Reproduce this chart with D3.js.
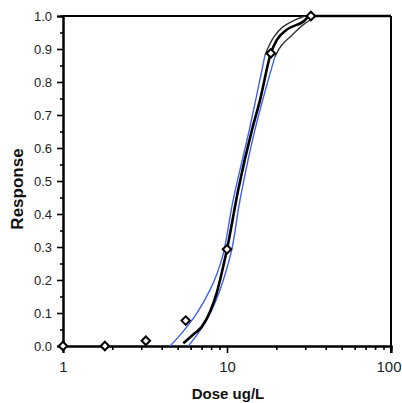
<!DOCTYPE html>
<html><head><meta charset="utf-8">
<script src="https://cdn.jsdelivr.net/npm/d3@7"></script>
<style>body{margin:0;background:#fff}svg{display:block}</style>
</head><body>
<script>
// observed data points
const doses = [1, 1.8, 3.2, 5.6, 10, 18.5, 32.5];
const responses = [0.0, 0.0, 0.016, 0.077, 0.293, 0.887, 1.0];
// fitted curve
const fitDose = [5.41, 6.23, 7.01, 7.88, 8.65, 9.07, 10, 11.7, 14.2, 15.9, 18.5, 20.1, 23.1, 29.2, 32.1, 100];
const fitResp = [0.008, 0.035, 0.058, 0.104, 0.16, 0.2, 0.293, 0.473, 0.655, 0.745, 0.887, 0.927, 0.958, 0.983, 1.0, 1.0];
// upper confidence bound
const upDose = [4.49, 5.17, 6.54, 7.88, 8.7, 9.5, 10.9, 13.68, 17.06];
const upResp = [0.0, 0.033, 0.099, 0.17, 0.22, 0.28, 0.442, 0.655, 0.882];
const upTailDose = [17.06, 19.1, 21.9, 26.0, 29.9];
const upTailResp = [0.882, 0.933, 0.967, 0.988, 1.0];
// lower confidence bound
const loDose = [5.81, 6.54, 7.52, 8.6, 9.5, 10.7, 12.0, 14.8, 19.6];
const loResp = [0.0, 0.033, 0.079, 0.14, 0.2, 0.293, 0.442, 0.655, 0.877];
const loTailDose = [19.6, 21.6, 24.9, 29.1, 34.4];
const loTailResp = [0.877, 0.912, 0.942, 0.973, 0.997];
// ticks
const xMajor = [1, 10, 100];
const xMinor = [2,3,4,5,6,7,8,9,20,30,40,50,60,70,80,90];
const yMajor = [0,0.1,0.2,0.3,0.4,0.5,0.6,0.7,0.8,0.9,1.0];
const yMinor = [0.05,0.15,0.25,0.35,0.45,0.55,0.65,0.75,0.85,0.95];

const W = 402, H = 403;
const font = "Arial, 'Liberation Sans', sans-serif";
const svg = d3.select("body").append("svg").attr("width", W).attr("height", H);
const x = d3.scaleLog().domain([1, 100]).range([63, 391]);
const y = d3.scaleLinear().domain([0, 1]).range([346, 16]);
const zip = (a, b) => a.map((d, i) => [d, b[i]]);
const line = d3.line().x(d => x(d[0])).y(d => y(d[1])).curve(d3.curveCatmullRom.alpha(0.5));
const fitLine = d3.line().x(d => x(d[0])).y(d => y(d[1])).curve(d3.curveMonotoneX);

// axes
const gx = svg.append("g").attr("transform", `translate(0,${y(0)})`);
gx.call(d3.axisBottom(x).tickValues(xMinor).tickSize(4).tickFormat(""));
const gx2 = svg.append("g").attr("transform", `translate(0,${y(0)})`);
gx2.call(d3.axisBottom(x).tickValues(xMajor).tickSize(7).tickPadding(8).tickFormat(d3.format("d")));
const gy = svg.append("g").attr("transform", `translate(${x(1)},0)`);
gy.call(d3.axisLeft(y).tickValues(yMinor).tickSize(3).tickFormat(""));
const gy2 = svg.append("g").attr("transform", `translate(${x(1)},0)`);
gy2.call(d3.axisLeft(y).tickValues(yMajor).tickSize(6).tickPadding(5).tickFormat(d3.format(".1f")));
[gx, gx2, gy, gy2].forEach(g => {
  g.select(".domain").attr("stroke", "#000").attr("stroke-width", 2);
  g.selectAll(".tick line").attr("stroke", "#000").attr("stroke-width", 1.6);
});
gx2.selectAll("text").attr("font-family", font).attr("font-size", 15).attr("fill", "#222")
  .attr("text-anchor", d => d === 100 ? "end" : "middle")
  .attr("x", d => d === 100 ? 10 : 0);
gy2.selectAll("text").attr("font-family", font).attr("font-size", 13).attr("fill", "#222");
// top & right borders
svg.append("line").attr("x1", x(1)).attr("x2", x(100)).attr("y1", y(1)).attr("y2", y(1)).attr("stroke", "#000").attr("stroke-width", 2);
svg.append("line").attr("x1", x(100)).attr("x2", x(100)).attr("y1", y(1)).attr("y2", y(0) + 7).attr("stroke", "#000").attr("stroke-width", 2);

// confidence bounds
const blue = "#4060ee";
svg.append("path").attr("d", line(zip(upDose, upResp))).attr("fill", "none").attr("stroke", blue).attr("stroke-width", 1.4);
svg.append("path").attr("d", line(zip(loDose, loResp))).attr("fill", "none").attr("stroke", blue).attr("stroke-width", 1.4);
svg.append("path").attr("d", line(zip(upTailDose, upTailResp))).attr("fill", "none").attr("stroke", "#333").attr("stroke-width", 1.4);
svg.append("path").attr("d", line(zip(loTailDose, loTailResp))).attr("fill", "none").attr("stroke", "#333").attr("stroke-width", 1.4);
// fitted curve
svg.append("path").attr("d", fitLine(zip(fitDose, fitResp))).attr("fill", "none").attr("stroke", "#000").attr("stroke-width", 2.6);

// points
const diamond = d3.symbol().type(d3.symbolSquare).size(36);
svg.selectAll(".pt").data(zip(doses, responses)).join("path")
  .attr("d", diamond)
  .attr("transform", d => `translate(${x(d[0])},${y(d[1])}) rotate(45)`)
  .attr("fill", "#fff").attr("stroke", "#000").attr("stroke-width", 2);

// axis titles
svg.append("text").attr("x", 228).attr("y", 399).attr("text-anchor", "middle")
  .attr("font-family", font).attr("font-weight", "bold").attr("font-size", 15)
  .attr("fill", "#111").text("Dose ug/L");
svg.append("text").attr("transform", "translate(23,189) rotate(-90)").attr("text-anchor", "middle")
  .attr("font-family", font).attr("font-weight", "bold").attr("font-size", 17)
  .attr("fill", "#111").text("Response");
</script>
</body></html>
